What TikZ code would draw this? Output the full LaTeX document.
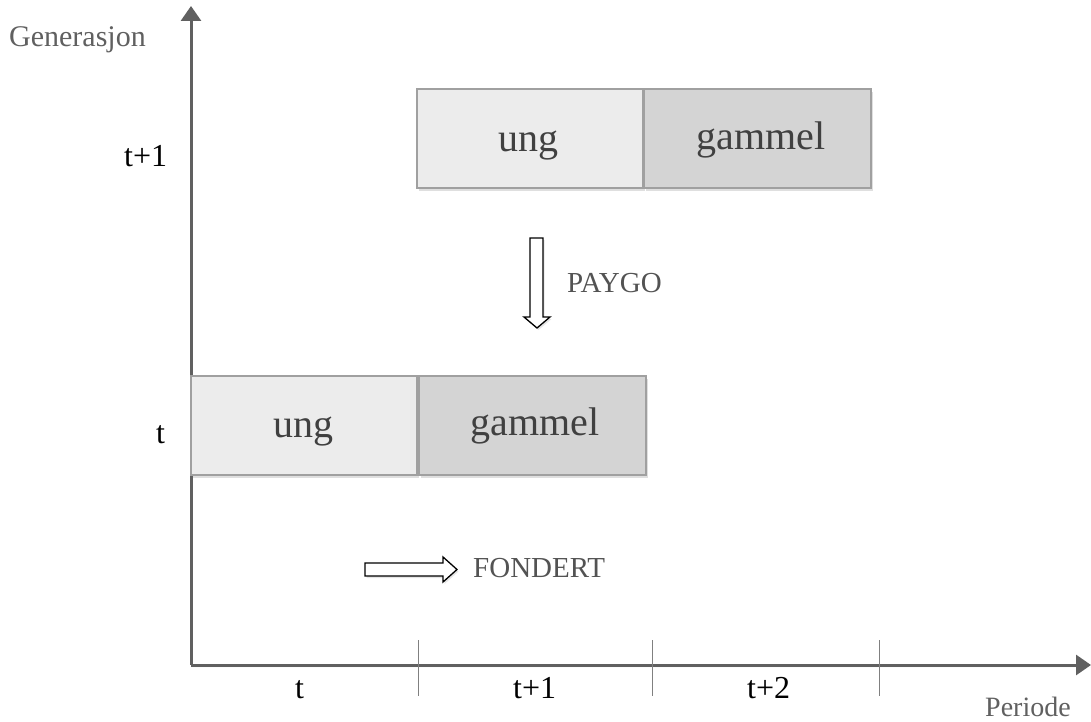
\documentclass[tikz,border=0pt]{standalone}
\usepackage{fontspec}
\setmainfont{Liberation Serif}
\usetikzlibrary{arrows.meta,shadows}
\definecolor{axisgray}{HTML}{606060}
\definecolor{boxborder}{HTML}{A0A0A0}
\definecolor{ungfill}{HTML}{ECECEC}
\definecolor{gamfill}{HTML}{D4D4D4}
\definecolor{txtgray}{HTML}{404040}
\tikzset{
  axisline/.style={draw=axisgray, line width=3bp, -{Triangle[length=15bp,width=20bp]},
    drop shadow={opacity=0.25, shadow xshift=1.5bp, shadow yshift=-2bp}},
  tickline/.style={draw=axisgray!80, line width=1bp},
  genbox/.style={draw=boxborder, line width=2bp, rectangle, minimum height=99bp,
    drop shadow={opacity=0.25, shadow xshift=2bp, shadow yshift=-3bp}},
  ungbox/.style={genbox, fill=ungfill, minimum width=226bp},
  gambox/.style={genbox, fill=gamfill, minimum width=227bp},
  boxtext/.style={font=\fontsize{40bp}{45bp}\selectfont, text=txtgray, anchor=base, inner sep=0pt},
  labeltext/.style={font=\fontsize{32bp}{36bp}\selectfont, text=black, anchor=base west, inner sep=0pt},
  axtitle/.style={font=\fontsize{30bp}{34bp}\selectfont, text=axisgray, anchor=base west, inner sep=0pt},
  flowtext/.style={font=\fontsize{29bp}{33bp}\selectfont, text=txtgray!90, anchor=base west, inner sep=0pt},
  hollowarrow/.style={draw=black, line width=1.3bp, fill=white, line join=miter,
    drop shadow={opacity=0.2, shadow xshift=1.5bp, shadow yshift=-2bp}}
}
\begin{document}
\begin{tikzpicture}[x=1bp, y=-1bp]
\useasboundingbox (0,0) rectangle (1091,722);
\fill[white] (0,0) rectangle (1091,722);

% axes
\coordinate (origin) at (191,665);
\coordinate (ytip) at (191,6);
\coordinate (xtip) at (1091,665);
\draw[axisline] (origin) -- (ytip);
\draw[axisline] (origin) -- (xtip);

% ticks
\foreach \x [count=\i] in {418,652,879} {
  \coordinate (tt\i) at (\x,640);
  \coordinate (tb\i) at (\x,696);
  \draw[tickline] (tt\i) -- (tb\i);
}

% boxes: generation t+1
\node[ungbox] (ung1) at (530,138.5) {};
\node[gambox] (gam1) at (757,138.5) {};
% boxes: generation t
\node[ungbox] (ung0) at (304,425.5) {};
\node[gambox] (gam0) at (532,425.5) {};

\node[boxtext] (ung1t) at (528,152) {ung};
\node[boxtext] (gam1t) at (761,150) {gammel};
\node[boxtext] (ung0t) at (303,437) {ung};
\node[boxtext] (gam0t) at (535,435) {gammel};

% labels
\node[axtitle] (gen) at (9,47) {Generasjon};
\node[axtitle, font=\fontsize{28bp}{32bp}\selectfont] (per) at (985,716) {Periode};
\node[labeltext] (lt1) at (124,167) {t+1};
\node[labeltext] (lt0) at (156,443) {t};
\node[labeltext] (xt0) at (295,698) {t};
\node[labeltext] (xt1) at (513,698) {t+1};
\node[labeltext] (xt2) at (747,698) {t+2};

% PAYGO arrow
\draw[hollowarrow] (530,238) -- (543,238) -- (543,317) -- (550,317) -- (537,328)
  -- (524,317) -- (530,317) -- cycle;
\node[flowtext] (paygo) at (567,292) {PAYGO};

% FONDERT arrow
\draw[hollowarrow] (365,563) -- (443,563) -- (443,557) -- (457,569.5) -- (443,582)
  -- (443,576) -- (365,576) -- cycle;
\node[flowtext] (fondert) at (473,577) {FONDERT};
\end{tikzpicture}
\end{document}
